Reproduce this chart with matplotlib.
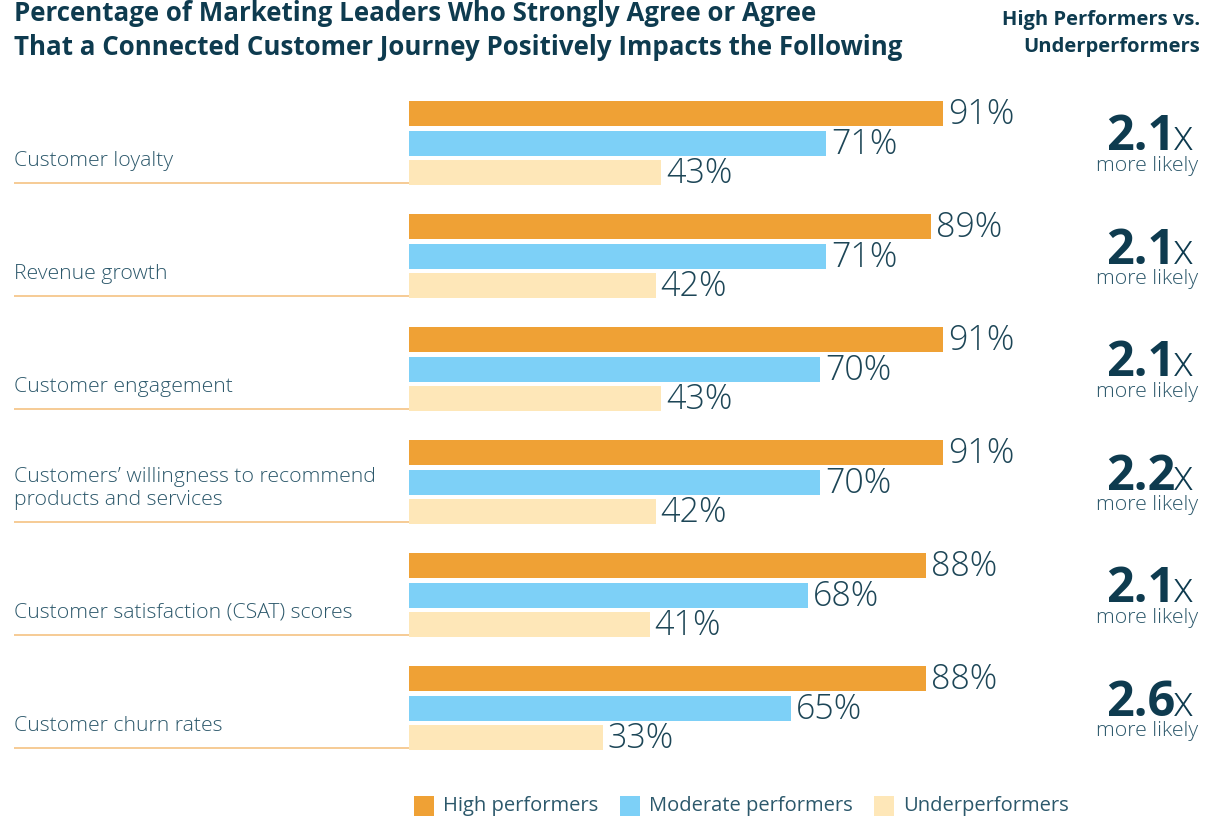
import matplotlib
matplotlib.use("Agg")
import matplotlib.pyplot as plt
from matplotlib.transforms import blended_transform_factory
from matplotlib.patches import Rectangle

categories = [
    "Customer loyalty",
    "Revenue growth",
    "Customer engagement",
    "Customers\u2019 willingness to recommend\nproducts and services",
    "Customer satisfaction (CSAT) scores",
    "Customer churn rates",
]
high = [91, 89, 91, 91, 88, 88]
moderate = [71, 71, 70, 70, 68, 65]
under = [43, 42, 43, 42, 41, 33]
multipliers = ["2.1", "2.1", "2.1", "2.2", "2.1", "2.6"]
series_names = ["High performers", "Moderate performers", "Underperformers"]

C_HIGH = "#EFA135"
C_MOD = "#7DD0F7"
C_UNDER = "#FEE7B8"
C_SEP = "#F6C78C"
C_TITLE = "#0E3B4F"
C_TEXT = "#2C586B"
C_VAL = "#1D4657"

FONT = "Open Sans"

W, H = 1221, 819
fig = plt.figure(figsize=(W / 100, H / 100), dpi=100)

def fx(x):
    return x / W

def fy(y):
    return 1 - y / H

PITCH = 113.0
ax_left, ax_right = 409, 996
ax_top = 143 - PITCH / 2
ax_bot = ax_top + 6 * PITCH
ax = fig.add_axes([fx(ax_left), fy(ax_bot), fx(ax_right - ax_left), (ax_bot - ax_top) / H])
ax.set_xlim(0, 100)
ax.set_ylim(5.5, -0.5)
ax.axis("off")

n = len(categories)
pos = list(range(n))
bh = 25 / PITCH
off = 29.5 / PITCH
ax.barh([p - off for p in pos], high, height=bh, color=C_HIGH)
ax.barh(pos, moderate, height=bh, color=C_MOD)
ax.barh([p + off for p in pos], under, height=bh, color=C_UNDER)

val_kw = dict(fontsize=24.5, color=C_VAL, va="center", ha="left", family=FONT, fontweight="light")
xpad = 5 / (ax_right - ax_left) * 100
for i in range(n):
    ax.text(high[i] + xpad, i - off + 1.5 / PITCH, f"{high[i]}%", **val_kw)
    ax.text(moderate[i] + xpad, i + 1.5 / PITCH, f"{moderate[i]}%", **val_kw)
    ax.text(under[i] + xpad, i + off + 1.5 / PITCH, f"{under[i]}%", **val_kw)

bt = blended_transform_factory(fig.transFigure, ax.transData)
for i in range(n):
    sep_y = i + 40 / PITCH
    ax.plot([fx(14), fx(409)], [sep_y, sep_y], transform=bt, color=C_SEP, lw=1.3,
            clip_on=False, solid_capstyle="butt")
    ax.text(fx(14), sep_y - 12 / PITCH, categories[i], transform=bt, fontsize=15.3,
            fontweight="light", color=C_TEXT, family=FONT, ha="left", va="bottom",
            linespacing=1.22)
    ax.text(fx(1175), i + 7.5 / PITCH, multipliers[i], transform=bt, fontsize=35,
            fontweight="bold", color=C_TITLE, family=FONT, ha="right", va="baseline")
    ax.text(fx(1173), i + 7.5 / PITCH, "x", transform=bt, fontsize=30,
            fontweight="light", color=C_TITLE, family=FONT, ha="left", va="baseline")
    ax.text(fx(1198), i + 28 / PITCH, "more likely", transform=bt, fontsize=15.3,
            fontweight="light", color=C_TEXT, family=FONT, ha="right", va="baseline")

# Title
fig.text(fx(14), fy(0), "Percentage of Marketing Leaders Who Strongly Agree or Agree\n"
         "That a Connected Customer Journey Positively Impacts the Following",
         fontsize=18.6, fontweight="bold", color=C_TITLE, family=FONT, ha="left", va="top",
         linespacing=1.31)
fig.text(fx(1200), fy(10), "High Performers vs.\nUnderperformers", fontsize=14.5,
         fontweight="bold", color=C_TITLE, family=FONT, ha="right", va="top",
         linespacing=1.46, multialignment="right")

# Legend
leg_items = [(414, 443, C_HIGH), (620, 649, C_MOD), (874, 903, C_UNDER)]
for (sx, tx, col), name in zip(leg_items, series_names):
    fig.add_artist(Rectangle((fx(sx), fy(816)), fx(20), 20 / H, transform=fig.transFigure,
                             color=col, lw=0))
    fig.text(fx(tx), fy(806), name, fontsize=14.5, color=C_TEXT, family=FONT,
             ha="left", va="center")

fig.savefig("out.png", dpi=100)
